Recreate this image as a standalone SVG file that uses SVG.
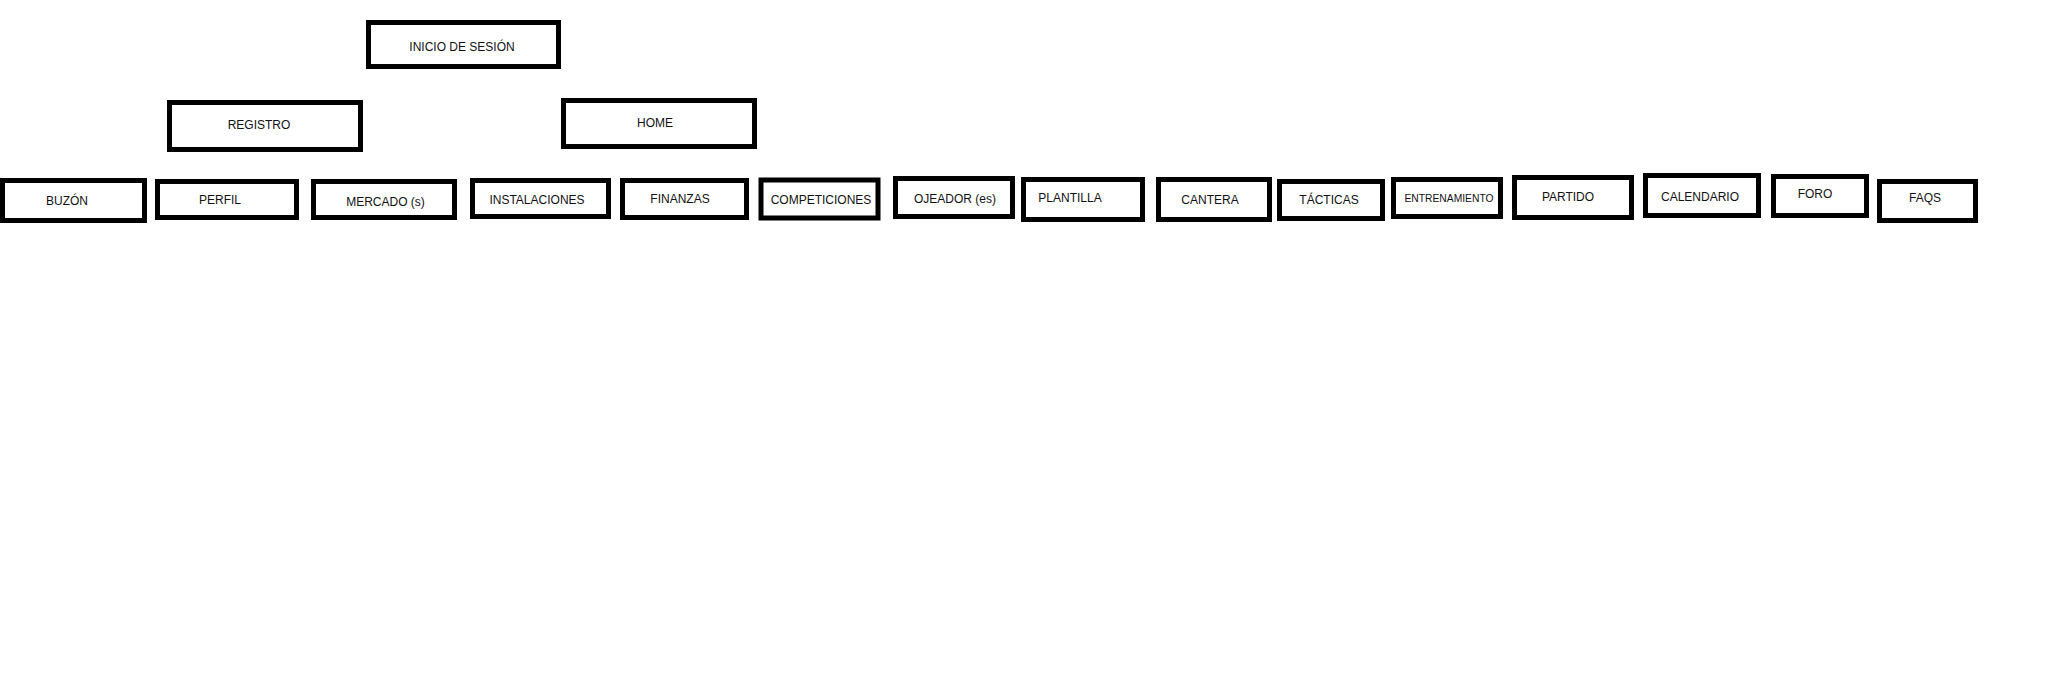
<svg xmlns="http://www.w3.org/2000/svg" width="2065" height="674" viewBox="0 0 2065 674">
<style>
.box{fill:#fff;stroke:#000;stroke-width:5}
.lbl{font-family:"Liberation Sans",Arial,sans-serif;font-size:12px;fill:#111;text-anchor:middle}
.sm{font-size:10.3px}
</style>
<rect width="2065" height="674" fill="#fff"/>
<g id="connectors"></g>
<g id="inicio-sesion"><rect class="box" x="368.5" y="22.5" width="190" height="44"/><text class="lbl" x="462" y="51">INICIO DE SESIÓN</text></g>
<g id="registro"><rect class="box" x="169.5" y="102.5" width="191" height="47"/><text class="lbl" x="259" y="129">REGISTRO</text></g>
<g id="home"><rect class="box" x="563.5" y="100.5" width="191" height="46"/><text class="lbl" x="655" y="127">HOME</text></g>
<g id="buzon"><rect class="box" x="2.5" y="180.5" width="142" height="40"/><text class="lbl" x="67" y="205">BUZÓN</text></g>
<g id="perfil"><rect class="box" x="157.5" y="181.5" width="139" height="36"/><text class="lbl" x="220" y="204">PERFIL</text></g>
<g id="mercado"><rect class="box" x="313.5" y="181.5" width="141" height="36"/><text class="lbl" x="385.5" y="206">MERCADO (s)</text></g>
<g id="instalaciones"><rect class="box" x="472.5" y="180.5" width="136" height="36"/><text class="lbl" x="537" y="204">INSTALACIONES</text></g>
<g id="finanzas"><rect class="box" x="622.5" y="180.5" width="124" height="37"/><text class="lbl" x="680" y="203">FINANZAS</text></g>
<g id="competiciones"><rect class="box" x="761" y="180" width="117" height="38" stroke-width="6"/><text class="lbl" x="821" y="204">COMPETICIONES</text></g>
<g id="ojeador"><rect class="box" x="895.5" y="178.5" width="117" height="38"/><text class="lbl" x="955" y="203">OJEADOR (es)</text></g>
<g id="plantilla"><rect class="box" x="1023.5" y="179.5" width="119" height="40"/><text class="lbl" x="1070" y="202">PLANTILLA</text></g>
<g id="cantera"><rect class="box" x="1158.5" y="179.5" width="111" height="40"/><text class="lbl" x="1210" y="204">CANTERA</text></g>
<g id="tacticas"><rect class="box" x="1279.5" y="181.5" width="103" height="37"/><text class="lbl" x="1329" y="204">TÁCTICAS</text></g>
<g id="entrenamiento"><rect class="box" x="1393.5" y="179.5" width="107" height="37"/><text class="lbl sm" x="1449" y="202">ENTRENAMIENTO</text></g>
<g id="partido"><rect class="box" x="1514.5" y="177.5" width="117" height="40"/><text class="lbl" x="1568" y="201">PARTIDO</text></g>
<g id="calendario"><rect class="box" x="1645.5" y="175.5" width="113" height="40"/><text class="lbl" x="1700" y="201">CALENDARIO</text></g>
<g id="foro"><rect class="box" x="1773.5" y="176.5" width="93" height="39"/><text class="lbl" x="1815" y="198">FORO</text></g>
<g id="faqs"><rect class="box" x="1879.5" y="181.5" width="96" height="39"/><text class="lbl" x="1925" y="202">FAQS</text></g>
</svg>
